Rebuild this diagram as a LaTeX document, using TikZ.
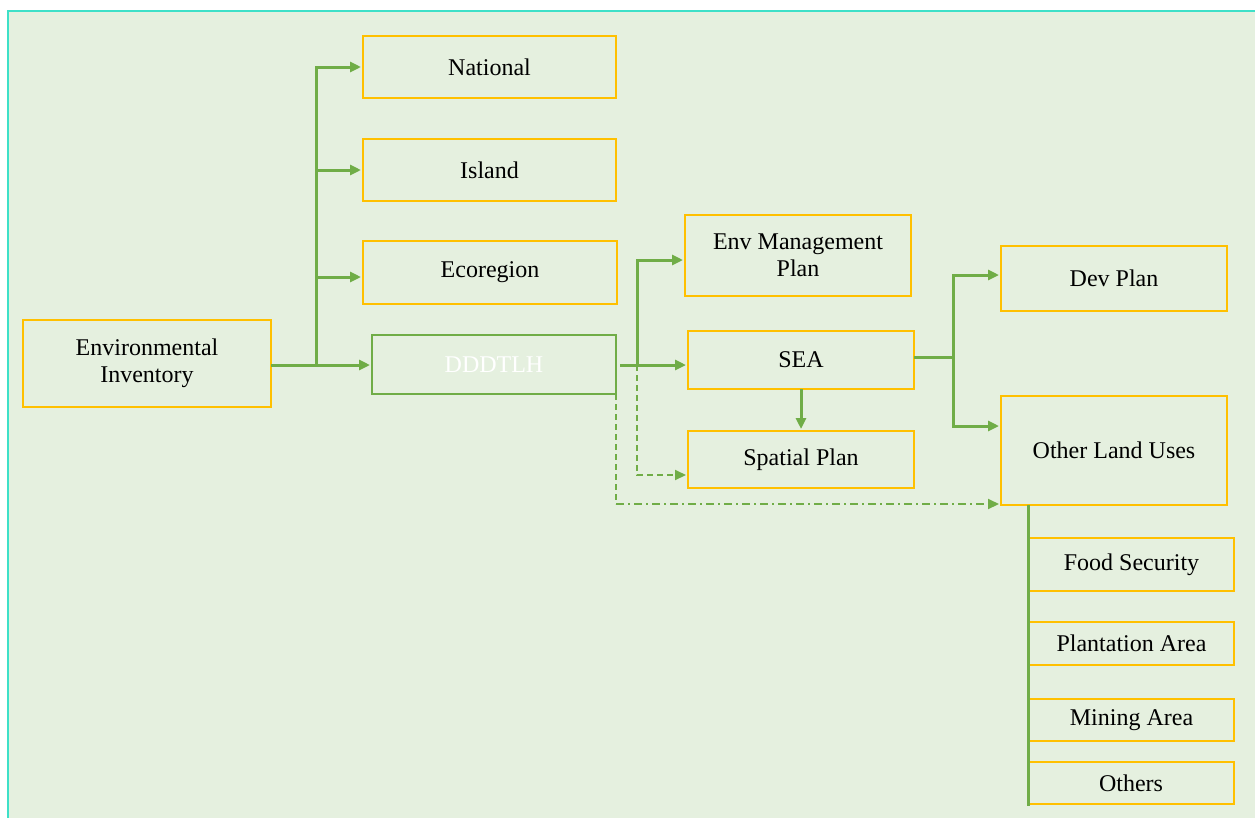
\documentclass[tikz,border=0pt]{standalone}
\usepackage{fontspec}
\setmainfont{Liberation Serif}
\usetikzlibrary{arrows.meta}
\definecolor{bgc}{HTML}{E5F0DF}
\definecolor{teal1}{HTML}{3EE0C8}
\definecolor{gr}{HTML}{70AD47}
\definecolor{yel}{HTML}{FFC000}
\tikzset{
  box/.style={draw=yel, line width=1.5pt, inner sep=0pt, outer sep=0pt, align=center,
    font=\fontsize{24}{27}\selectfont, text=black},
  gbox/.style={box, draw=gr, text=white},
  conn/.style={draw=gr, line width=3pt},
  arr/.style={conn, -{Triangle[length=11pt,width=10pt]}, shorten >=2pt},
  dashln/.style={draw=gr, line width=2pt, dash pattern=on 6pt off 4pt},
  dasharr/.style={dashln, -{Triangle[length=11pt,width=10pt]}, shorten >=2pt},
  dotarr/.style={draw=gr, line width=2pt, dash pattern=on 8pt off 4pt on 2pt off 4pt, -{Triangle[length=11pt,width=10pt]}, shorten >=2pt},
}
\begin{document}
\begin{tikzpicture}[x=1pt,y=-1pt]
\useasboundingbox (0,0) rectangle (1255,817);
\fill[bgc] (8,11) rectangle (1262,822);
\draw[teal1, line width=2pt] (8,822) -- (8,11) -- (1262,11);

\node[box, minimum width=248pt, minimum height=87pt] (EI) at (147,363.5) {Environmental\\Inventory};
\node[box, minimum width=253pt, minimum height=62pt] (Nat) at (489.5,67) {National};
\node[box, minimum width=253pt, minimum height=62pt] (Isl) at (489.5,170) {Island};
\node[box, minimum width=254pt, minimum height=63pt] (Eco) at (490,272.5) {Ecoregion};
\node[gbox, minimum width=244pt, minimum height=59pt] (DDD) at (494,364.5) {DDDTLH};
\node[box, minimum width=226pt, minimum height=81pt] (EMP) at (798,255.5) {Env Management\\Plan};
\node[box, minimum width=226pt, minimum height=58pt] (SEA) at (801,360) {SEA};
\node[box, minimum width=226pt, minimum height=57pt] (SP) at (801,459.5) {Spatial Plan};
\node[box, minimum width=226pt, minimum height=65pt] (Dev) at (1114,278.5) {Dev Plan};
\node[box, minimum width=226pt, minimum height=109pt] (OLU) at (1114,450.5) {Other Land Uses};
\node[box, minimum width=205pt, minimum height=53pt] (FS) at (1131.5,564.5) {Food Security};
\node[box, minimum width=205pt, minimum height=43pt] (PA) at (1131.5,643.5) {Plantation Area};
\node[box, minimum width=205pt, minimum height=42pt] (MA) at (1131.5,720) {Mining Area};
\node[box, minimum width=206pt, minimum height=42pt] (Oth) at (1131,783) {Others};

% Environmental Inventory branches
\coordinate (t1) at (316,365);
\draw[conn] (EI.east |- t1) -- (t1);
\draw[arr] (t1) -- (t1 -| DDD.west);
\draw[arr] (t1) |- (Nat.west);
\draw[arr] (t1) |- (Isl.west);
\draw[arr] (t1) |- (Eco.west |- 0,277);

% DDDTLH branches
\coordinate (t2) at (637,365);
\draw[conn, shorten <=4pt] (DDD.east |- t2) -- (t2);
\draw[arr] (t2) |- (EMP.west |- 0,260);
\draw[arr] (t2) -- (t2 -| SEA.west);
\coordinate (d1) at (637,475);
\draw[dasharr] (t2) -- (d1) -- (d1 -| SP.west);
\coordinate (d2) at (616,504);
\draw[dashln] (DDD.south east) -- (d2);
\draw[dotarr] (d2) -- (d2 -| OLU.west);

% SEA
\draw[arr] (SEA.south) -- (SP.north);
\coordinate (t3) at (953,357);
\draw[conn] (SEA.east |- t3) -- (t3);
\draw[arr] (t3) |- (Dev.west |- 0,275);
\draw[arr] (t3) |- (OLU.west |- 0,426);

% Other land uses spine
\coordinate (v1) at (1028,806);
\draw[conn] (v1 |- OLU.south) -- (v1);
\end{tikzpicture}
\end{document}
